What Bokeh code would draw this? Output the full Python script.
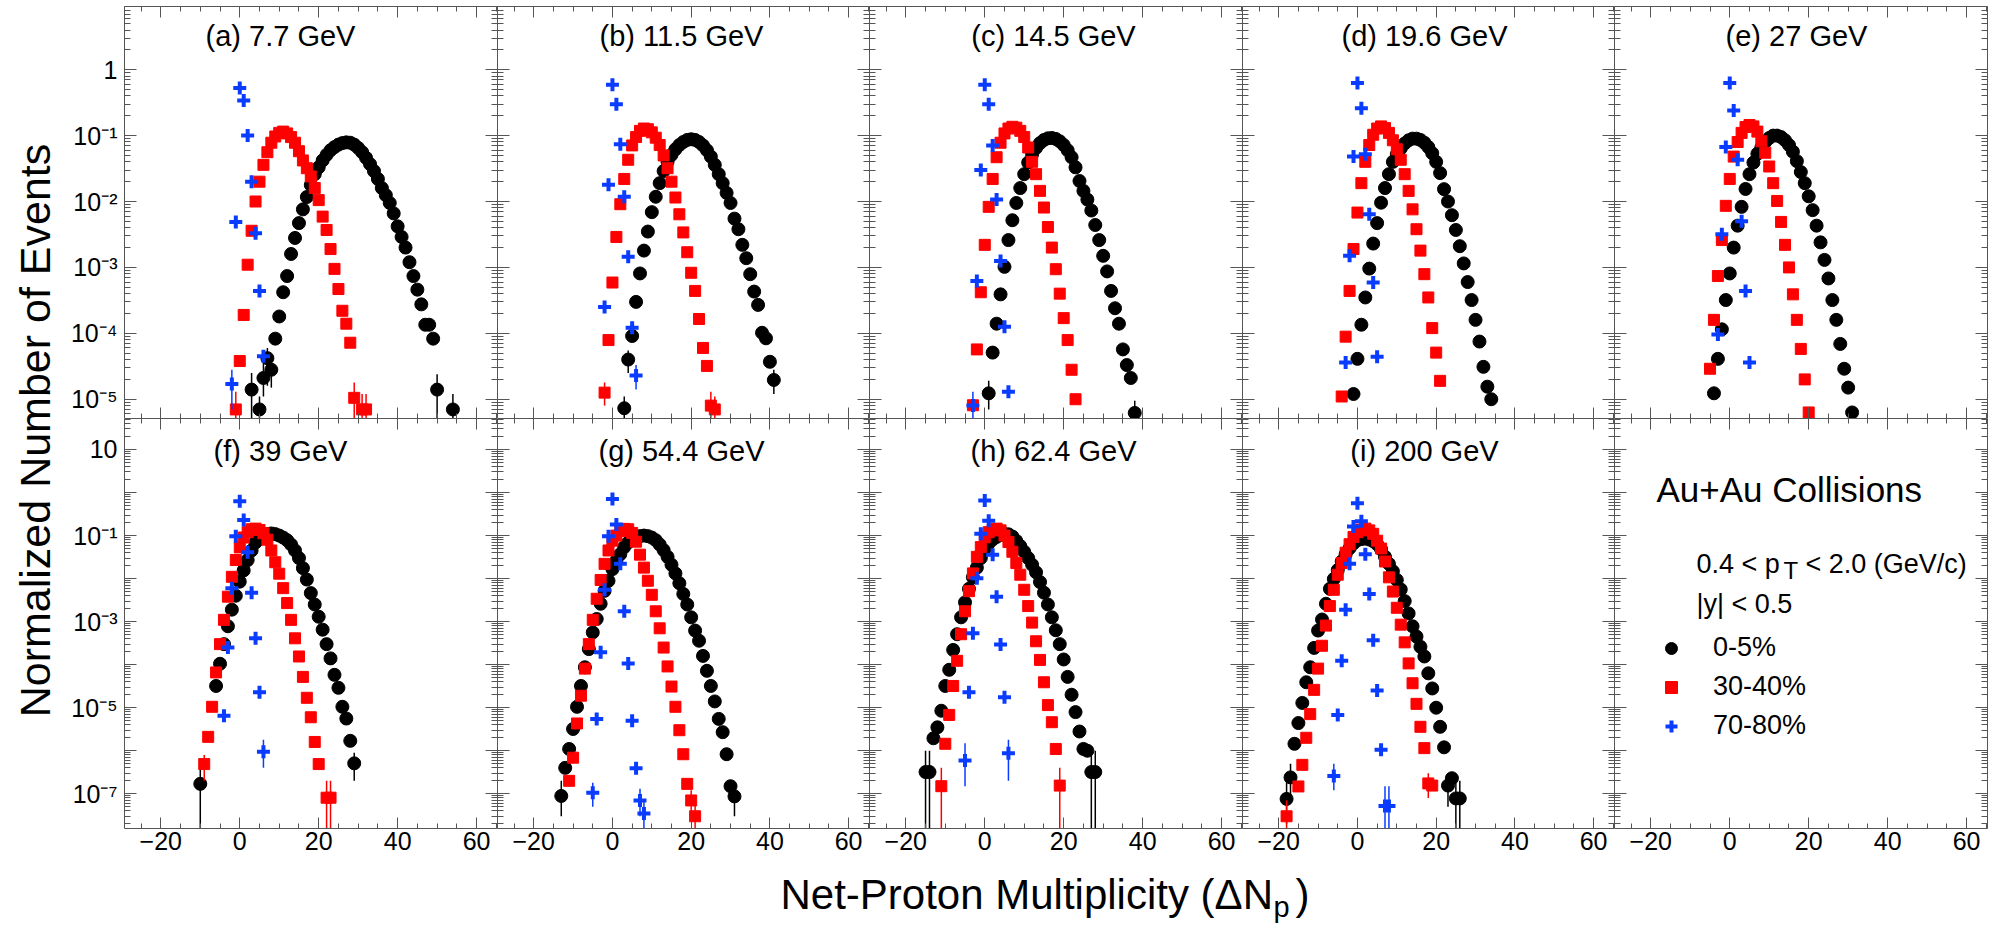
from math import pi
from bokeh.plotting import figure
from bokeh.models import (Range1d, LinearAxis, LogAxis, FixedTicker, CustomJSTickFormatter,
                          Label, Legend, LegendItem, ColumnDataSource)
from bokeh.layouts import row, column
from bokeh.embed import file_html
from bokeh.resources import INLINE

# ---------------------------------------------------------------- data
TITLES = ["(a) 7.7 GeV", "(b) 11.5 GeV", "(c) 14.5 GeV", "(d) 19.6 GeV", "(e) 27 GeV",
          "(f) 39 GeV", "(g) 54.4 GeV", "(h) 62.4 GeV", "(i) 200 GeV"]
CENTRALITIES = ["0-5%", "30-40%", "70-80%"]

# (net-proton number, normalized events) pairs
A_BLK = [(3, 1.4e-5), (5, 7e-6), (6, 2.1e-5), (7, 4.2e-5), (8, 2.8e-5), (9, 8.3e-5), (10, 1.8e-4),
         (11, 4.2e-4), (12, 7.4e-4), (13, 1.6e-3), (14, 2.8e-3), (15, 4.7e-3), (16, 7.6e-3), (17, 1.17e-2),
         (18, 1.78e-2), (19, 2.6e-2), (20, 3.3e-2), (21, 4.2e-2), (22, 5.1e-2), (23, 6.0e-2), (24, 6.7e-2),
         (25, 7.3e-2), (26, 7.7e-2), (27, 7.9e-2), (28, 7.8e-2), (29, 7.3e-2), (30, 6.5e-2), (31, 5.6e-2),
         (32, 4.6e-2), (33, 3.7e-2), (34, 2.9e-2), (35, 2.2e-2), (36, 1.6e-2), (37, 1.25e-2), (38, 9.5e-3),
         (39, 6.6e-3), (40, 4.2e-3), (41, 2.9e-3), (42, 2.0e-3), (43, 1.2e-3), (44, 7.4e-4), (45, 4.6e-4),
         (46, 2.75e-4), (47, 1.35e-4), (48, 1.35e-4), (49, 8.3e-5), (50, 1.4e-5), (54, 7e-6)]
A_RED = [(-1, 7e-6), (0, 3.8e-5), (1, 1.9e-4), (2, 1.1e-3), (3, 3.6e-3), (4, 1.0e-2), (5, 2.0e-2),
         (6, 3.6e-2), (7, 5.6e-2), (8, 7.8e-2), (9, 9.7e-2), (10, 0.11), (11, 0.115), (12, 0.108),
         (13, 0.095), (14, 0.078), (15, 0.058), (16, 0.042), (17, 0.032), (18, 0.024), (19, 0.016),
         (20, 0.0105), (21, 0.0059), (22, 0.0037), (23, 0.0019), (24, 9.5e-4), (25, 4.7e-4), (26, 2.2e-4),
         (27, 1.4e-4), (28, 7.2e-5), (29, 1.05e-5), (31, 7e-6), (32, 7e-6)]
A_BLU = [(-2, 1.7e-5), (-1, 4.9e-3), (0, 0.53), (1, 0.34), (2, 0.10), (3, 0.020), (4, 3.3e-3),
         (5, 4.4e-4), (6, 4.5e-5)]

B_BLK = [(3, 7.3e-6), (4, 4e-5), (5, 9.1e-5), (6, 3e-4), (7, 8.1e-4), (8, 1.8e-3), (9, 3.5e-3),
         (10, 6.9e-3), (11, 0.0118), (12, 0.019), (13, 0.029), (14, 0.040), (15, 0.051), (16, 0.062),
         (17, 0.072), (18, 0.080), (19, 0.086), (20, 0.088), (21, 0.086), (22, 0.080), (23, 0.071),
         (24, 0.060), (25, 0.048), (26, 0.036), (27, 0.026), (28, 0.019), (29, 0.0135), (30, 9.5e-3),
         (31, 5.5e-3), (32, 3.8e-3), (33, 2.2e-3), (34, 1.38e-3), (35, 7.9e-4), (36, 4.3e-4), (37, 2.7e-4),
         (38, 1.02e-4), (39, 8.4e-5), (40, 3.7e-5), (41, 1.96e-5)]
B_RED = [(-2, 1.26e-5), (-1, 7.9e-5), (0, 5.9e-4), (1, 2.9e-3), (2, 9.1e-3), (3, 0.022), (4, 0.043),
         (5, 0.071), (6, 0.095), (7, 0.118), (8, 0.128), (9, 0.125), (10, 0.112), (11, 0.093), (12, 0.072),
         (13, 0.05), (14, 0.032), (15, 0.020), (16, 0.0115), (17, 6.4e-3), (18, 3.4e-3), (19, 1.7e-3),
         (20, 8.3e-4), (21, 4.4e-4), (22, 1.65e-4), (23, 6e-5), (24, 3.2e-5), (25, 8e-6), (26, 7e-6)]
B_BLU = [(-2, 2.5e-4), (-1, 0.018), (0, 0.59), (1, 0.30), (2, 0.074), (3, 0.0118), (4, 1.45e-3),
         (5, 1.22e-4), (6, 2.3e-5)]

C_BLK = [(1, 1.23e-5), (2, 5.1e-5), (3, 1.4e-4), (4, 3.9e-4), (5, 1.02e-3), (6, 2.6e-3), (7, 5.2e-3),
         (8, 9.5e-3), (9, 0.016), (10, 0.026), (11, 0.039), (12, 0.052), (13, 0.065), (14, 0.077),
         (15, 0.086), (16, 0.091), (17, 0.092), (18, 0.089), (19, 0.082), (20, 0.072), (21, 0.060),
         (22, 0.047), (23, 0.033), (24, 0.0205), (25, 0.0145), (26, 0.0107), (27, 7.3e-3), (28, 4.4e-3),
         (29, 2.6e-3), (30, 1.5e-3), (31, 8.7e-4), (32, 4.4e-4), (33, 2.4e-4), (34, 1.4e-4), (35, 5.7e-5),
         (36, 3.3e-5), (37, 2.1e-5), (38, 6.2e-6)]
C_RED = [(-3, 8.1e-6), (-2, 5.7e-5), (-1, 4.2e-4), (0, 2.2e-3), (1, 8.3e-3), (2, 0.022), (3, 0.047),
         (4, 0.078), (5, 0.108), (6, 0.128), (7, 0.136), (8, 0.132), (9, 0.118), (10, 0.095), (11, 0.066),
         (12, 0.040), (13, 0.026), (14, 0.0145), (15, 8.1e-3), (16, 4.1e-3), (17, 2.0e-3), (18, 9.4e-4),
         (19, 4.0e-4), (20, 1.7e-4), (21, 7.9e-5), (22, 2.8e-5), (23, 1.0e-5)]
C_BLU = [(-3, 8e-6), (-2, 6.2e-4), (-1, 0.030), (0, 0.59), (1, 0.30), (2, 0.071), (3, 0.0107),
         (4, 1.25e-3), (5, 1.26e-4), (6, 1.3e-5)]

D_BLK = [(-1, 1.2e-5), (0, 4.1e-5), (1, 1.35e-4), (2, 3.5e-4), (3, 9.6e-4), (4, 2.3e-3), (5, 4.7e-3),
         (6, 9.6e-3), (7, 0.016), (8, 0.026), (9, 0.040), (10, 0.052), (11, 0.064), (12, 0.076), (13, 0.085),
         (14, 0.090), (15, 0.090), (16, 0.086), (17, 0.078), (18, 0.067), (19, 0.054), (20, 0.040),
         (21, 0.027), (22, 0.0154), (23, 0.010), (24, 6.2e-3), (25, 3.7e-3), (26, 2.1e-3), (27, 1.15e-3),
         (28, 6e-4), (29, 3.2e-4), (30, 1.6e-4), (31, 7.5e-5), (32, 3.1e-5), (33, 1.55e-5), (34, 1.0e-5)]
D_RED = [(-4, 1.1e-5), (-3, 8.9e-5), (-2, 4.4e-4), (-1, 1.9e-3), (0, 6.8e-3), (1, 0.019), (2, 0.040),
         (3, 0.072), (4, 0.103), (5, 0.128), (6, 0.138), (7, 0.130), (8, 0.110), (9, 0.085), (10, 0.062),
         (11, 0.043), (12, 0.026), (13, 0.0145), (14, 7.6e-3), (15, 3.8e-3), (16, 1.8e-3), (17, 7.9e-4),
         (18, 3.5e-4), (19, 1.2e-4), (20, 5.1e-5), (21, 1.9e-5)]
D_BLU = [(-3, 3.6e-5), (-2, 1.5e-3), (-1, 0.048), (0, 0.63), (1, 0.26), (2, 0.052), (3, 6.4e-3),
         (4, 5.9e-4), (5, 4.4e-5)]

E_BLK = [(-4, 1.23e-5), (-3, 4.1e-5), (-2, 1.15e-4), (-1, 3.2e-4), (0, 8.1e-4), (1, 2e-3), (2, 4.3e-3),
         (3, 8.3e-3), (4, 0.0155), (5, 0.026), (6, 0.039), (7, 0.053), (8, 0.066), (9, 0.08), (10, 0.092),
         (11, 0.1), (12, 0.1), (13, 0.095), (14, 0.085), (15, 0.072), (16, 0.057), (17, 0.041), (18, 0.028),
         (19, 0.019), (20, 0.012), (21, 7.4e-3), (22, 4.3e-3), (23, 2.4e-3), (24, 1.3e-3), (25, 6.8e-4),
         (26, 3.2e-4), (27, 1.6e-4), (28, 6.9e-5), (29, 2.9e-5), (30, 1.5e-5), (31, 6.3e-6)]
E_RED = [(-5, 2.9e-5), (-4, 1.6e-4), (-3, 7.4e-4), (-2, 2.6e-3), (-1, 8.6e-3), (0, 0.022), (1, 0.048),
         (2, 0.08), (3, 0.11), (4, 0.135), (5, 0.145), (6, 0.138), (7, 0.115), (8, 0.082), (9, 0.055),
         (10, 0.034), (11, 0.019), (12, 0.0102), (13, 4.9e-3), (14, 2.2e-3), (15, 1e-3), (16, 3.9e-4),
         (17, 1.6e-4), (18, 5.8e-5), (19, 2e-5), (20, 6.3e-6)]
E_BLU = [(-3, 9.6e-5), (-2, 3.2e-3), (-1, 0.067), (0, 0.63), (1, 0.24), (2, 0.043), (3, 5e-3),
         (4, 4.4e-4), (5, 3.6e-5)]

F_BLK = [(-10, 1.7e-7), (-6, 3.2e-5), (-5, 1.05e-4), (-4, 3e-4), (-3, 7.8e-4), (-2, 1.9e-3), (-1, 4e-3),
         (0, 8.5e-3), (1, 0.0155), (2, 0.027), (3, 0.045), (4, 0.069), (5, 0.085), (6, 0.1), (7, 0.108),
         (8, 0.112), (9, 0.108), (10, 0.1), (11, 0.09), (12, 0.078), (13, 0.062), (14, 0.045), (15, 0.03),
         (16, 0.0175), (17, 9.5e-3), (18, 4.6e-3), (19, 2.5e-3), (20, 1.3e-3), (21, 6.5e-4), (22, 3e-4),
         (23, 1.4e-4), (24, 5.8e-5), (25, 2.9e-5), (26, 1.05e-5), (27, 5.6e-6), (28, 1.7e-6), (29, 5.1e-7)]
F_RED = [(-9, 4.9e-7), (-8, 2.1e-6), (-7, 1.05e-5), (-6, 6.6e-5), (-5, 3e-4), (-4, 1.1e-3), (-3, 3.8e-3),
         (-2, 0.011), (-1, 0.027), (0, 0.053), (1, 0.09), (2, 0.12), (3, 0.14), (4, 0.145), (5, 0.135),
         (6, 0.113), (7, 0.08), (8, 0.045), (9, 0.024), (10, 0.013), (11, 6e-3), (12, 2.7e-3), (13, 1.1e-3),
         (14, 4.1e-4), (15, 1.55e-4), (16, 5.2e-5), (17, 1.7e-5), (18, 6e-6), (19, 1.6e-6), (20, 4.9e-7),
         (22, 8.1e-8), (23, 8.1e-8)]
F_BLU = [(-4, 6.5e-6), (-3, 2.5e-4), (-2, 6e-3), (-1, 0.096), (0, 0.63), (1, 0.23), (2, 0.041),
         (3, 4.7e-3), (4, 4.1e-4), (5, 2.3e-5), (6, 9.5e-7)]

G_BLK = [(-13, 8.9e-8), (-12, 4e-7), (-11, 1.1e-6), (-10, 3.2e-6), (-9, 1.05e-5), (-8, 3.2e-5),
         (-7, 8.7e-5), (-6, 2.3e-4), (-5, 5.6e-4), (-4, 1.15e-3), (-3, 2.6e-3), (-2, 5.2e-3), (-1, 8.9e-3),
         (0, 0.0166), (1, 0.026), (2, 0.037), (3, 0.054), (4, 0.069), (5, 0.083), (6, 0.091), (7, 0.097),
         (8, 0.1), (9, 0.097), (10, 0.09), (11, 0.078), (12, 0.062), (13, 0.046), (14, 0.032), (15, 0.021),
         (16, 0.0132), (17, 7.8e-3), (18, 4.4e-3), (19, 2.5e-3), (20, 1.26e-3), (21, 6.2e-4), (22, 3.6e-4),
         (23, 1.6e-4), (24, 7.2e-5), (25, 3.2e-5), (26, 1.4e-5), (27, 5.5e-6), (28, 2.7e-6), (29, 8.3e-7),
         (30, 1.5e-7), (31, 8.7e-8)]
G_RED = [(-11, 2e-7), (-10, 6.9e-7), (-9, 4.3e-6), (-8, 1.9e-5), (-7, 8.1e-5), (-6, 3e-4), (-5, 1.1e-3),
         (-4, 3.4e-3), (-3, 9.3e-3), (-2, 0.022), (-1, 0.045), (0, 0.076), (1, 0.10), (2, 0.128), (3, 0.143),
         (4, 0.14), (5, 0.115), (6, 0.072), (7, 0.036), (8, 0.018), (9, 8.9e-3), (10, 4.2e-3), (11, 1.74e-3),
         (12, 7e-4), (13, 2.5e-4), (14, 9.1e-5), (15, 3.1e-5), (16, 1.05e-5), (17, 3e-6), (18, 8.3e-7),
         (19, 1.7e-7), (20, 7e-8), (21, 3e-8)]
G_BLU = [(-5, 1.05e-7), (-4, 5.5e-6), (-3, 1.95e-4), (-2, 5.5e-3), (-1, 0.096), (0, 0.71), (1, 0.18),
         (2, 0.022), (3, 1.74e-3), (4, 1.07e-4), (5, 5e-6), (6, 3.9e-7), (7, 7e-8), (8, 3.5e-8)]

H_BLK = [(-15, 3.2e-7), (-14, 3.2e-7), (-13, 1.95e-6), (-12, 3.5e-6), (-11, 8.5e-6), (-10, 3.2e-5),
         (-9, 7.6e-5), (-8, 2.2e-4), (-7, 5.1e-4), (-6, 1.26e-3), (-5, 2.8e-3), (-4, 5.8e-3), (-3, 0.0107),
         (-2, 0.018), (-1, 0.030), (0, 0.049), (1, 0.066), (2, 0.081), (3, 0.093), (4, 0.103), (5, 0.109),
         (6, 0.107), (7, 0.095), (8, 0.075), (9, 0.057), (10, 0.042), (11, 0.030), (12, 0.021), (13, 0.014),
         (14, 8.3e-3), (15, 4.7e-3), (16, 2.5e-3), (17, 1.26e-3), (18, 6.3e-4), (19, 3e-4), (20, 1.32e-4),
         (21, 5.2e-5), (22, 2e-5), (23, 7.9e-6), (24, 2.8e-6), (25, 1.1e-6), (26, 1e-6), (27, 3.2e-7),
         (28, 3.2e-7)]
H_RED = [(-11, 1.5e-7), (-10, 1.45e-6), (-9, 6.8e-6), (-8, 3.2e-5), (-7, 1.23e-4), (-6, 5.1e-4),
         (-5, 1.74e-3), (-4, 5.1e-3), (-3, 0.0132), (-2, 0.032), (-1, 0.054), (0, 0.091), (1, 0.12),
         (2, 0.138), (3, 0.145), (4, 0.132), (5, 0.1), (6, 0.071), (7, 0.042), (8, 0.023), (9, 0.0123),
         (10, 5.5e-3), (11, 2.3e-3), (12, 9.5e-4), (13, 3.5e-4), (14, 1.29e-4), (15, 3.9e-5), (16, 1.15e-5),
         (17, 4.6e-6), (18, 1.1e-6), (19, 1.55e-7)]
H_BLU = [(-5, 5.9e-7), (-4, 2.3e-5), (-3, 5.4e-4), (-2, 0.0102), (-1, 0.11), (0, 0.65), (1, 0.22),
         (2, 0.036), (3, 3.8e-3), (4, 2.95e-4), (5, 1.74e-5), (6, 8.7e-7)]

I_BLK = [(-18, 7.6e-8), (-17, 2.4e-7), (-16, 1.45e-6), (-15, 4.4e-6), (-14, 1.29e-5), (-13, 3.9e-5),
         (-12, 8.7e-5), (-11, 2.45e-4), (-10, 6.2e-4), (-9, 1.12e-3), (-8, 2.6e-3), (-7, 5.8e-3),
         (-6, 9.8e-3), (-5, 0.0158), (-4, 0.025), (-3, 0.037), (-2, 0.051), (-1, 0.066), (0, 0.078),
         (1, 0.083), (2, 0.085), (3, 0.081), (4, 0.074), (5, 0.063), (6, 0.048), (7, 0.032), (8, 0.022),
         (9, 0.0148), (10, 9.3e-3), (11, 5.6e-3), (12, 3e-3), (13, 1.55e-3), (14, 7.8e-4), (15, 4.5e-4),
         (16, 2.6e-4), (17, 1.55e-4), (18, 6.3e-5), (19, 2.8e-5), (20, 1e-5), (21, 3.6e-6), (22, 1.2e-6),
         (23, 1.55e-7), (24, 2.3e-7), (25, 7.8e-8), (26, 7.8e-8)]
I_RED = [(-18, 3e-8), (-15, 1.48e-7), (-14, 4.7e-7), (-13, 2e-6), (-12, 7.1e-6), (-11, 2.6e-5),
         (-10, 8.1e-5), (-9, 2.75e-4), (-8, 8.1e-4), (-7, 2.3e-3), (-6, 5.5e-3), (-5, 0.0123), (-4, 0.023),
         (-3, 0.04), (-2, 0.063), (-1, 0.093), (0, 0.12), (1, 0.138), (2, 0.145), (3, 0.132), (4, 0.11),
         (5, 0.076), (6, 0.05), (7, 0.025), (8, 0.0107), (9, 5e-3), (10, 2.1e-3), (11, 8.5e-4), (12, 3.3e-4),
         (13, 1.07e-4), (14, 3.7e-5), (15, 1.23e-5), (16, 3.6e-6), (17, 1.15e-6), (18, 1.74e-7), (19, 1.55e-7)]
I_BLU = [(-6, 2.6e-7), (-5, 6.8e-6), (-4, 1.23e-4), (-3, 1.9e-3), (-2, 0.022), (-1, 0.162), (0, 0.56),
         (1, 0.214), (2, 0.037), (3, 4.4e-3), (4, 3.7e-4), (5, 2.5e-5), (6, 1.05e-6), (7, 5.2e-8), (8, 5.2e-8)]

# visible error bars: (series index 0=0-5% 1=30-40% 2=70-80%, x, low, high)
A_ERR = [(0, 3, 3e-6, 2.5e-5), (0, 5, 3e-6, 1.1e-5), (0, 6, 1.1e-5, 3.6e-5), (0, 7, 1.6e-5, 6e-5),
         (0, 8, 1.5e-5, 4.2e-5), (0, 50, 3e-6, 2.4e-5), (0, 54, 3e-6, 1.2e-5), (1, -1, 3e-6, 1.3e-5),
         (1, 29, 4e-6, 1.8e-5), (1, 31, 3e-6, 1.2e-5), (1, 32, 3e-6, 1.2e-5), (2, -2, 7e-6, 2.8e-5)]
B_ERR = [(0, 3, 3e-6, 1.1e-5), (0, 4, 2.5e-5, 5.5e-5), (0, 41, 1.2e-5, 2.8e-5), (1, -2, 8e-6, 1.8e-5),
         (1, 25, 4e-6, 1.3e-5), (1, 26, 3e-6, 1.1e-5), (2, 6, 1.4e-5, 3.3e-5)]
C_ERR = [(0, 1, 7e-6, 1.9e-5), (0, 38, 3e-6, 9.5e-6), (2, -3, 3e-6, 1.3e-5)]
D_ERR = []
E_ERR = []
F_ERR = [(0, -10, 1e-9, 4e-7), (0, 29, 2e-7, 9e-7), (1, 22, 1e-9, 2e-7), (1, 23, 1e-9, 2e-7),
         (1, -9, 2e-7, 8e-7), (2, 6, 4e-7, 1.8e-6)]
G_ERR = [(0, -13, 3e-8, 2e-7), (0, 31, 3e-8, 1.8e-7), (1, 21, 1e-9, 6e-8), (1, 20, 3e-8, 1.2e-7),
         (2, 8, 1e-9, 7e-8), (2, 7, 3e-8, 1.3e-7), (2, -5, 5e-8, 1.8e-7)]
H_ERR = [(0, -15, 1e-9, 1e-6), (0, -14, 1e-9, 1e-6), (0, 27, 1e-9, 1e-6), (0, 28, 1e-9, 1e-6),
         (1, -11, 1e-9, 4e-7), (1, 19, 1e-9, 4e-7), (2, -5, 1.5e-7, 1.5e-6), (2, 6, 2e-7, 1.8e-6)]
I_ERR = [(0, -18, 2e-8, 2e-7), (0, -17, 8e-8, 5e-7), (0, 23, 5e-8, 3e-7), (0, 25, 1e-9, 2e-7),
         (0, 26, 1e-9, 2e-7), (1, -18, 1e-9, 7e-8), (1, 18, 8e-8, 3e-7), (2, 7, 1e-9, 1.5e-7),
         (2, 8, 1e-9, 1.5e-7), (2, -6, 1.2e-7, 5e-7)]

PANEL_DATA = [(A_BLK, A_RED, A_BLU), (B_BLK, B_RED, B_BLU), (C_BLK, C_RED, C_BLU),
              (D_BLK, D_RED, D_BLU), (E_BLK, E_RED, E_BLU), (F_BLK, F_RED, F_BLU),
              (G_BLK, G_RED, G_BLU), (H_BLK, H_RED, H_BLU), (I_BLK, I_RED, I_BLU)]
PANEL_ERR = [A_ERR, B_ERR, C_ERR, D_ERR, E_ERR, F_ERR, G_ERR, H_ERR, I_ERR]

# ---------------------------------------------------------------- axes
X_RANGE = (-29.2, 65.3)
Y_RANGES = [(5.1e-6, 9.1), (1.56e-8, 52.5)]
X_MAJOR = [-20, 0, 20, 40, 60]
X_MINOR = [-25, -15, -10, -5, 5, 10, 15, 25, 30, 35, 45, 50, 55, 65]
Y_DECADES = [list(range(-6, 2)), list(range(-8, 3))]
Y_LABELED = [[0, -1, -2, -3, -4, -5], [1, -1, -3, -5, -7]]

# ---------------------------------------------------------------- style / layout
FONT = "Liberation Sans"
AX = "#555555"
BLUE = "#0a3cff"
COLORS = ["black", "#ff0000", BLUE]
MARKERS = [dict(marker="circle", size=13, fill_color="black", line_color="black", line_width=1),
           dict(marker="square", size=11, fill_color="#ff0000", line_color="#ff0000", line_width=1),
           dict(marker="cross", size=13, line_color=BLUE, line_width=4)]
FRAME_W = [373, 372, 373, 372, 373]
FRAME_H = [412, 410]
LEFT_B, RIGHT_B, TOP_B, BOTTOM_B = 64, 3, 6, 36
YLAB_W, XLAB_H = 60, 62
TITLE_CX = [156, 184, 184, 182, 182]
TITLE_Y = [375, 370]
LIFT = 0.28          # baseline correction (fraction of font size)

EMPTY_FMT = "return '';"


def text_label(x, y, text, size, **kw):
    return Label(x=x, y=y + round(LIFT * size), x_units="screen", y_units="screen", text=text,
                 text_font=FONT, text_font_size=f"{size}px", text_baseline="alphabetic",
                 text_color="black", **kw)


def log_formatter(labeled):
    return CustomJSTickFormatter(args=dict(labeled=labeled), code="""
        const sup = {"-": "\u207b", "0": "\u2070", "1": "\u00b9", "2": "\u00b2", "3": "\u00b3",
                     "4": "\u2074", "5": "\u2075", "6": "\u2076", "7": "\u2077", "8": "\u2078", "9": "\u2079"};
        const e = Math.round(Math.log10(tick));
        if (labeled.indexOf(e) < 0) { return ""; }
        if (e === 0) { return "1"; }
        if (e === 1) { return "10"; }
        let s = "";
        for (const c of String(e)) { s += sup[c]; }
        return "10" + s;
    """)


def style_axis(ax, show, tin, tmin, standoff=0):
    ax.axis_line_color = AX
    ax.axis_line_width = 1
    ax.major_tick_line_color = AX
    ax.minor_tick_line_color = AX
    ax.major_tick_in = tin
    ax.major_tick_out = 0
    ax.minor_tick_in = tmin
    ax.minor_tick_out = 0
    if show:
        ax.major_label_text_font = FONT
        ax.major_label_text_font_size = "25px"
        ax.major_label_text_color = "black"
        ax.major_label_standoff = standoff
    else:
        ax.formatter = CustomJSTickFormatter(code=EMPTY_FMT)
        ax.major_label_text_font_size = "0px"
        ax.major_label_standoff = 0


def bare(p):
    p.outline_line_color = None
    p.background_fill_color = "white"
    p.border_fill_color = "white"
    p.xgrid.visible = False
    p.ygrid.visible = False


def make_panel(r, c):
    bl = LEFT_B if c == 0 else 0
    br = RIGHT_B if c == 4 else 0
    bt = TOP_B if r == 0 else 0
    bb = BOTTOM_B if r == 1 else 0
    p = figure(width=FRAME_W[c] + bl + br, height=FRAME_H[r] + bt + bb,
               x_range=Range1d(*X_RANGE), y_range=Range1d(*Y_RANGES[r]),
               y_axis_type="log", x_axis_location=None, y_axis_location=None,
               toolbar_location=None, output_backend="svg",
               min_border=0, min_border_left=bl, min_border_right=br,
               min_border_top=bt, min_border_bottom=bb)
    bare(p)
    for place in ("below", "above"):
        ax = LinearAxis(ticker=FixedTicker(ticks=X_MAJOR, minor_ticks=X_MINOR))
        show = (place == "below" and r == 1)
        style_axis(ax, show, 11, 5, 3)
        if show:
            ax.formatter = CustomJSTickFormatter(code="return tick < 0 ? '\u2212' + (-tick) : '' + tick;")
        p.add_layout(ax, place)
    decs = Y_DECADES[r]
    for place in ("left", "right"):
        ax = LogAxis(ticker=FixedTicker(ticks=[10.0 ** e for e in decs],
                                        minor_ticks=[m * 10.0 ** e for e in decs for m in range(2, 10)]))
        show = (place == "left" and c == 0)
        style_axis(ax, show, 12, 6, 7)
        if show:
            ax.formatter = log_formatter(Y_LABELED[r])
        p.add_layout(ax, place)
    return p


panels = []
for r in range(2):
    for c in range(5):
        panels.append(make_panel(r, c))

for k in range(9):
    p = panels[k]
    r, c = divmod(k, 5)
    for s, (series, mk) in enumerate(zip(PANEL_DATA[k], MARKERS)):
        errs = [e for e in PANEL_ERR[k] if e[0] == s]
        if errs:
            esrc = ColumnDataSource(data=dict(x=[e[1] for e in errs], lo=[e[2] for e in errs],
                                              hi=[e[3] for e in errs]))
            p.segment(x0="x", y0="lo", x1="x", y1="hi", source=esrc, line_color=COLORS[s], line_width=1.5)
        src = ColumnDataSource(data=dict(x=[v[0] for v in series], y=[v[1] for v in series]))
        p.scatter("x", "y", source=src, **mk)
    p.add_layout(text_label(TITLE_CX[c], TITLE_Y[r], TITLES[k], 29, text_align="center"))

# legend panel (j)
pj = panels[9]
leg_r = []
for mk in MARKERS:
    leg_src = ColumnDataSource(data=dict(x=[float("nan")], y=[float("nan")]))
    leg_r.append(pj.scatter("x", "y", source=leg_src, **mk))
legend = Legend(items=[LegendItem(label=CENTRALITIES[i], renderers=[leg_r[i]]) for i in range(3)],
                location=(42, 87), orientation="vertical", padding=0, spacing=8, margin=0,
                glyph_width=30, glyph_height=30, label_height=30, label_standoff=27,
                label_text_font=FONT, label_text_font_size="27px", label_text_color="black",
                background_fill_alpha=0, border_line_alpha=0)
pj.add_layout(legend)
for txt, x, y, size in [("Au+Au Collisions", 42, 329, 35),
                        ("0.4 < p", 82, 257, 27), ("T", 169, 251, 24),
                        ("< 2.0 (GeV/c)", 191, 257, 27), ("|y| < 0.5", 82, 217, 27)]:
    pj.add_layout(text_label(x, y, txt, size))

# y-axis title
ylab = figure(width=YLAB_W, height=FRAME_H[0] + TOP_B + FRAME_H[1] + BOTTOM_B + XLAB_H,
              x_range=Range1d(0, 1), y_range=Range1d(0, 1), x_axis_location=None, y_axis_location=None,
              toolbar_location=None, output_backend="svg", min_border=0)
bare(ylab)
ylab.add_layout(Label(x=34, y=496, x_units="screen", y_units="screen", angle=pi / 2,
                      text="Normalized Number of Events", text_font=FONT, text_font_size="43px",
                      text_align="center", text_baseline="middle", text_color="black"))

# x-axis title
xlab = figure(width=sum(FRAME_W) + LEFT_B + RIGHT_B, height=XLAB_H,
              x_range=Range1d(0, 1), y_range=Range1d(0, 1), x_axis_location=None, y_axis_location=None,
              toolbar_location=None, output_backend="svg", min_border=0)
bare(xlab)
for txt, x, y, size in [("Net-Proton Multiplicity (\u0394N", 720, 20, 42), ("p", 1213, 12, 29),
                        (")", 1235, 20, 42)]:
    xlab.add_layout(text_label(x, y, txt, size))

layout = row(ylab, column(row(*panels[:5]), row(*panels[5:]), xlab))
open("out.html", "w").write(file_html(layout, INLINE))
